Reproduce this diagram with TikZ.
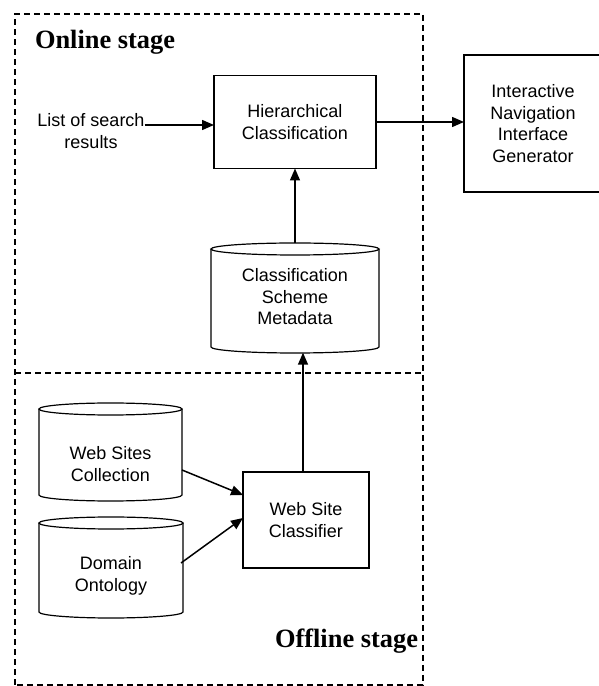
\documentclass[tikz,border=0pt]{standalone}
\usepackage{fontspec}
\setmainfont{Liberation Sans}
\newfontfamily\stagefont{Liberation Serif}
\usetikzlibrary{arrows.meta}
\tikzset{
  every node/.style={inner sep=0pt, outer sep=0pt},
  txt/.style={align=center, font=\fontsize{18}{21.5}\selectfont},
  procbox/.style={draw, line width=1.5pt, txt},
  stagelbl/.style={font=\fontsize{26.4}{30}\selectfont\stagefont\bfseries},
  arr/.style={line width=1.5pt, -{Triangle[length=12pt,width=10pt]}},
  stageline/.style={line width=1.5pt, dash pattern=on 6pt off 4pt},
  cyl/.style={line width=1.2pt}
}
% cylinder: left x, right x, top y, bottom y, ry
\newcommand{\drawcyl}[5]{%
  \pgfmathsetmacro{\cx}{(#1+#2)/2}%
  \pgfmathsetmacro{\rx}{(#2-#1)/2}%
  \draw[cyl] (\cx,#3-#5) ellipse [x radius=\rx, y radius=#5];
  \draw[cyl] (#1,#3-#5) -- (#1,#4+#5) arc [start angle=180, end angle=360, x radius=\rx, y radius=#5] -- (#2,#3-#5);
}
\begin{document}
\begin{tikzpicture}[x=1pt,y=1pt]
\useasboundingbox (0,0) rectangle (598,686);
% stage frames
\draw[stageline] (15,1) rectangle (423,672);
\draw[stageline] (15,313) -- (423,313);
\node[stagelbl, anchor=base west] (online) at (35,637) {Online stage};
\node[stagelbl, anchor=base east] (offline) at (418,38) {Offline stage};
% process boxes
\node[procbox, minimum width=162pt, minimum height=93pt] (hc) at (295,564) {Hierarchical\\Classification};
\node[procbox, minimum width=138pt, minimum height=137pt] (inig) at (533,562.5) {Interactive\\Navigation\\Interface\\Generator};
\node[procbox, minimum width=126pt, minimum height=96pt] (wsc) at (306,166) {Web Site\\Classifier};
\node[txt] (lst) at (91,555) {List of search\\results};
% cylinders
\drawcyl{211}{379}{443}{333}{6}
\node[txt] (csm) at (295,389) {Classification\\Scheme\\Metadata};
\coordinate (csmtop) at (295,443);
\coordinate (csmbot) at (303,333.3);
\drawcyl{39}{182}{283}{185}{6}
\node[txt] (wscol) at (110.5,222) {Web Sites\\Collection};
\coordinate (wscolout) at (182,216);
\drawcyl{39}{183}{169}{68}{6}
\node[txt] (dom) at (111,110) {Domain\\Ontology};
\coordinate (domout) at (181,123);
% connectors
\draw[arr] (lst.east |- 0,561) -- (hc.west |- 0,561);
\draw[arr] (hc.east) -- (inig.west |- hc.east);
\draw[arr] (csmtop) -- (hc.south);
\draw[arr] (wsc.north -| csmbot) -- (csmbot);
\draw[arr] (wscolout) -- (wsc.west |- 0,191);
\draw[arr] (domout) -- (wsc.west |- 0,168);
\end{tikzpicture}
\end{document}
